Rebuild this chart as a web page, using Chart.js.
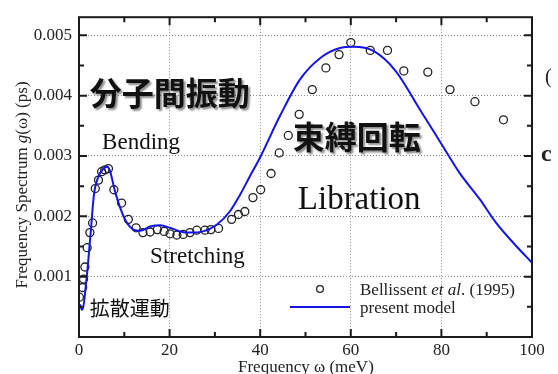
<!DOCTYPE html>
<html>
<head>
<meta charset="utf-8">
<script src="https://cdn.jsdelivr.net/npm/chart.js@4.4.1/dist/chart.umd.min.js"></script>
<style>
  html, body { margin: 0; padding: 0; background: #fff; }
</style>
</head>
<body>
<canvas id="chart" width="558" height="374"></canvas>
<script>
// Bellissent et al. (1995), frequency in meV, g(w) in ps
const expFreq = [0.1, 0.8, 1.0, 1.3, 1.8, 2.4, 3.0, 3.6, 4.3, 5.0, 5.7, 6.5, 7.7, 9.4, 10.9,
    12.6, 14.1, 15.7, 17.3, 18.8, 20.1, 21.6, 23.0, 24.5, 26.0, 27.8, 29.1, 30.8, 33.7, 35.2,
    36.6, 38.4, 40.1, 42.4, 44.2, 46.2, 48.6, 51.5, 54.5, 57.4, 60.0, 64.3, 68.1, 71.7, 77.0,
    81.9, 87.4, 93.7];
const expSpec = [0.00066, 0.00082, 0.00096, 0.00116, 0.00148, 0.00173, 0.00189, 0.00246, 0.00260,
    0.00274, 0.00277, 0.00279, 0.00244, 0.00222, 0.00195, 0.00181, 0.00173, 0.00174, 0.00178,
    0.00175, 0.00171, 0.00169, 0.00170, 0.00173, 0.00177, 0.00177, 0.00178, 0.00180, 0.00195,
    0.00203, 0.00208, 0.00231, 0.00244, 0.00271, 0.00305, 0.00334, 0.00369, 0.00410, 0.00446,
    0.00468, 0.00488, 0.00475, 0.00475, 0.00441, 0.00439, 0.00410, 0.00390, 0.00360];

// present model
const modelFreq = [0.2, 0.7, 1.7, 2.6, 3.3, 4.3, 5.4, 6.2, 6.8, 7.9, 9.1, 10.5, 12.0, 13.5, 15.7,
    17.9, 20.1, 22.3, 24.5, 27.4, 30.4, 33.3, 35.5, 37.7, 40.0, 44.4, 48.8, 53.2, 57.6, 60.6,
    65.0, 70.0, 75.0, 80.0, 84.0, 88.5, 92.0, 96.0, 100.0];
const modelSpec = [0.00054, 0.00045, 0.00099, 0.00175, 0.00236, 0.00266, 0.00279, 0.00282, 0.00276,
    0.00243, 0.00214, 0.00190, 0.00178, 0.00176, 0.00183, 0.00185, 0.00181, 0.00175, 0.00173,
    0.00175, 0.00186, 0.00208, 0.00235, 0.00266, 0.00298, 0.00367, 0.00427, 0.00462, 0.00479,
    0.00481, 0.00474, 0.00440, 0.00380, 0.00320, 0.00272, 0.00228, 0.00190, 0.00155, 0.00123];

const xTickValues = [0, 20, 40, 60, 80, 100];
const yTickValues = [0, 0.001, 0.002, 0.003, 0.004, 0.005];

const SERIF = '"Liberation Serif", "Times New Roman", serif';
const CJK = '"Noto Sans CJK JP", sans-serif';
const BLUE = '#1414e6';

// labels placed in data coordinates
const notes = [
    { text: '分子間振動', x: 2.4, y: 0.00405, font: 'bold 32px ' + CJK, base: 'middle', shadow: true },
    { text: '束縛回転', x: 47.2, y: 0.00331, font: 'bold 32px ' + CJK, base: 'middle', shadow: true },
    { text: 'Bending', x: 5.1, y: 0.00312, font: '23px ' + SERIF, base: 'alphabetic' },
    { text: 'Stretching', x: 15.7, y: 0.001234, font: '23px ' + SERIF, base: 'alphabetic' },
    { text: 'Libration', x: 48.3, y: 0.002115, font: '33px ' + SERIF, base: 'alphabetic' },
    { text: '拡散運動', x: 2.4, y: 0.000475, font: '20px ' + CJK, base: 'middle' }
];

const drawRuns = (ctx, runs, x, y) => {
    runs.forEach(r => {
        ctx.font = r[1];
        ctx.fillText(r[0], x, y);
        x += ctx.measureText(r[0]).width;
    });
};

const framePlugin = {
    id: 'frame',
    afterDraw(chart) {
        const { ctx, chartArea: a, scales: { x, y } } = chart;
        ctx.save();
        ctx.strokeStyle = '#1a1a1a';
        ctx.lineWidth = 2;
        ctx.strokeRect(a.left, a.top, a.right - a.left, a.bottom - a.top);
        ctx.beginPath();
        for (let i = 0; i <= 10; i++) {
            const px = x.getPixelForValue(i * 10);
            const len = i % 2 === 0 ? 8 : 5;
            ctx.moveTo(px, a.bottom); ctx.lineTo(px, a.bottom - len);
            ctx.moveTo(px, a.top); ctx.lineTo(px, a.top + len);
        }
        for (let i = 0; i <= 10; i++) {
            const py = y.getPixelForValue(i * 0.0005);
            const len = i % 2 === 0 ? 8 : 5;
            ctx.moveTo(a.left, py); ctx.lineTo(a.left + len, py);
            ctx.moveTo(a.right, py); ctx.lineTo(a.right - len, py);
        }
        ctx.stroke();

        // axis titles
        ctx.fillStyle = '#222';
        ctx.textBaseline = 'alphabetic';
        ctx.textAlign = 'left';
        const xRuns = [['Frequency ω (meV)', '17px ' + SERIF]];
        drawRuns(ctx, xRuns, 238, 372);

        const yRuns = [['Frequency Spectrum ', '17px ' + SERIF], ['g', 'italic 17px ' + SERIF],
            ['(ω) (ps)', '17px ' + SERIF]];
        let w = 0;
        yRuns.forEach(r => { ctx.font = r[1]; w += ctx.measureText(r[0]).width; });
        ctx.save();
        ctx.translate(27, 185);
        ctx.rotate(-Math.PI / 2);
        drawRuns(ctx, yRuns, -w / 2, 0);
        ctx.restore();

        // clipped glyphs at the right edge
        ctx.font = '20px ' + SERIF;
        ctx.fillText('(', 545, 83);
        ctx.font = 'bold 24px ' + SERIF;
        ctx.fillText('c', 541, 161);
        ctx.restore();
    }
};

const notesPlugin = {
    id: 'notes',
    afterDatasetsDraw(chart) {
        const { ctx, scales: { x, y } } = chart;
        ctx.save();
        ctx.textAlign = 'left';
        notes.forEach(n => {
            ctx.font = n.font;
            ctx.textBaseline = n.base;
            const px = x.getPixelForValue(n.x);
            const py = y.getPixelForValue(n.y);
            if (n.shadow) {
                ctx.shadowColor = 'rgba(0,0,0,0.45)';
                ctx.shadowOffsetX = 2;
                ctx.shadowOffsetY = 2;
                ctx.shadowBlur = 2;
            } else {
                ctx.shadowColor = 'transparent';
            }
            ctx.fillStyle = '#111';
            ctx.fillText(n.text, px, py);
        });
        ctx.restore();

        // legend
        const ds = chart.data.datasets;
        const pts = ds[1];
        const line = ds[0];
        ctx.save();
        ctx.beginPath();
        ctx.arc(320, 289, 3.4, 0, Math.PI * 2);
        ctx.strokeStyle = pts.borderColor;
        ctx.lineWidth = pts.borderWidth;
        ctx.stroke();
        ctx.beginPath();
        ctx.moveTo(290, 307);
        ctx.lineTo(350, 307);
        ctx.strokeStyle = line.borderColor;
        ctx.lineWidth = line.borderWidth;
        ctx.stroke();
        ctx.fillStyle = '#222';
        ctx.textBaseline = 'alphabetic';
        drawRuns(ctx, [['Bellissent ', '17px ' + SERIF], ['et al', 'italic 17px ' + SERIF],
            ['. (1995)', '17px ' + SERIF]], 360, 295);
        drawRuns(ctx, [['present model', '17px ' + SERIF]], 360, 313);
        ctx.restore();
    }
};

const modelData = modelFreq.map((f, i) => ({ x: f, y: modelSpec[i] }));
const expData = expFreq.map((f, i) => ({ x: f, y: expSpec[i] }));

new Chart(document.getElementById('chart').getContext('2d'), {
    type: 'scatter',
    data: {
        datasets: [{
            label: 'present model',
            data: modelData,
            showLine: true,
            borderColor: BLUE,
            borderWidth: 2,
            pointRadius: 0,
            cubicInterpolationMode: 'monotone',
            fill: false
        }, {
            label: 'Bellissent et al. (1995)',
            data: expData,
            pointRadius: 4,
            pointStyle: 'circle',
            borderColor: '#222',
            borderWidth: 1.3,
            backgroundColor: 'rgba(255,255,255,0)'
        }]
    },
    options: {
        responsive: false,
        animation: false,
        layout: { padding: { top: 15, right: 26, left: 0, bottom: 0 } },
        plugins: { legend: { display: false }, tooltip: { enabled: false } },
        scales: {
            x: {
                type: 'linear',
                min: 0,
                max: 100,
                afterFit: s => { s.height = 37; },
                afterBuildTicks: s => { s.ticks = xTickValues.map(v => ({ value: v })); },
                grid: { color: '#8a8a8a', lineWidth: 1, drawTicks: false },
                border: { display: false, dash: [1, 2] },
                ticks: {
                    padding: 3,
                    color: '#222',
                    font: { family: SERIF, size: 17 },
                    callback: v => String(v)
                }
            },
            y: {
                type: 'linear',
                min: 0,
                max: 0.0053,
                afterFit: s => { s.width = 79; },
                afterBuildTicks: s => { s.ticks = yTickValues.map(v => ({ value: v })); },
                grid: { color: '#8a8a8a', lineWidth: 1, drawTicks: false },
                border: { display: false, dash: [1, 2] },
                ticks: {
                    padding: 7,
                    color: '#222',
                    font: { family: SERIF, size: 17 },
                    callback: v => (v === 0 ? '' : v.toFixed(3))
                }
            }
        }
    },
    plugins: [framePlugin, notesPlugin]
});
</script>
</body>
</html>
